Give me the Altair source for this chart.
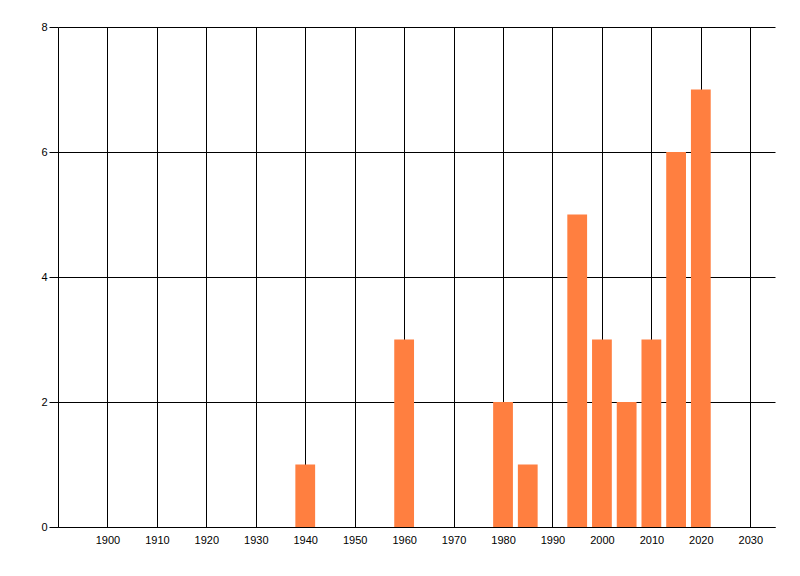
import altair as alt
import pandas as pd

years = [1940, 1960, 1980, 1985, 1995, 2000, 2005, 2010, 2015, 2020]
counts = [1, 3, 2, 1, 5, 3, 2, 3, 6, 7]
x_ticks = [1900, 1910, 1920, 1930, 1940, 1950, 1960, 1970, 1980, 1990, 2000, 2010, 2020, 2030]
y_ticks = [0, 2, 4, 6, 8]

df = pd.DataFrame({"year": years, "count": counts})

font = "Liberation Sans"

chart = alt.Chart(df).transform_calculate(
    x0="datum.year - 2", x1="datum.year + 2"
).mark_bar(color="#FF7F40").encode(
    x=alt.X("x0:Q", scale=alt.Scale(domain=[1890, 2035], nice=False, zero=False),
            axis=alt.Axis(values=x_ticks, format="d", title=None, grid=True,
                          gridColor="black", gridOpacity=1, gridWidth=1,
                          domainColor="black", domainWidth=1, ticks=False,
                          labelPadding=7, labelFont=font, labelFontSize=11,
                          labelColor="black")),
    x2="x1:Q",
    y=alt.Y("count:Q", scale=alt.Scale(domain=[0, 8], nice=False),
            axis=alt.Axis(values=y_ticks, title=None, grid=True,
                          gridColor="black", gridOpacity=1, gridWidth=1,
                          domainColor="black", domainWidth=1, tickSize=9,
                          tickColor="black", labelPadding=2, labelFont=font,
                          labelFontSize=11, labelColor="black")),
    y2=alt.datum(0),
).properties(
    width=717, height=500,
    autosize=alt.AutoSizeParams(type="none"),
    padding={"left": 50, "top": 19, "right": 10, "bottom": 30},
).configure_view(stroke=None)

chart.save("out.html", embed_options={"renderer": "svg", "actions": False})
